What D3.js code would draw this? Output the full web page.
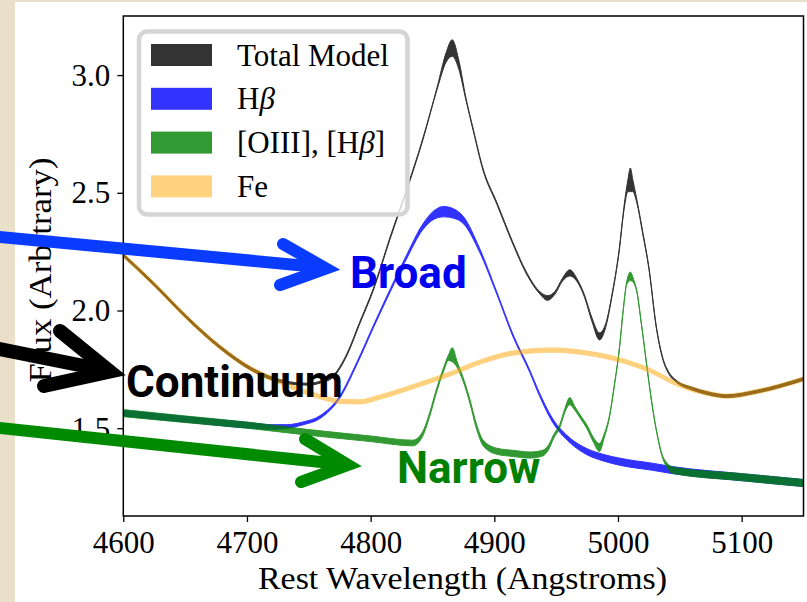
<!DOCTYPE html>
<html><head><meta charset="utf-8">
<script src="https://cdn.jsdelivr.net/npm/d3@7"></script>
<style>
html,body{margin:0;padding:0;background:#eadfc8;overflow:hidden;}
svg{display:block;}
</style></head><body>
<svg id="chart" width="807" height="602"></svg>
<script>
// ---------------- data ----------------
const wavelengthTicks = [4600, 4700, 4800, 4900, 5000, 5100];
const fluxTicks = [1.5, 2.0, 2.5, 3.0];

const totalWave = [4600, 4624, 4651, 4678, 4705, 4727, 4743, 4750, 4760, 4770, 4781, 4791, 4802, 4816, 4829, 4842, 4854, 4861, 4866, 4871, 4877, 4883, 4891, 4902, 4915, 4926, 4937, 4943, 4949, 4955, 4961, 4967, 4973, 4979, 4985, 4990, 4995, 5001, 5005, 5008, 5010, 5012, 5015, 5020, 5025, 5031, 5036, 5041, 5047, 5060, 5072, 5088, 5112, 5150];
const totalFlux = [2.235, 2.116, 1.972, 1.845, 1.747, 1.700, 1.688, 1.687, 1.697, 1.722, 1.815, 1.945, 2.087, 2.312, 2.511, 2.724, 2.949, 3.075, 3.115, 3.050, 2.900, 2.766, 2.597, 2.456, 2.286, 2.159, 2.074, 2.053, 2.075, 2.130, 2.160, 2.128, 2.060, 1.960, 1.890, 1.935, 2.060, 2.257, 2.440, 2.530, 2.555, 2.530, 2.470, 2.330, 2.180, 1.929, 1.800, 1.735, 1.700, 1.668, 1.649, 1.636, 1.655, 1.709];
const totalSpread = [0.006, 0.006, 0.006, 0.006, 0.006, 0.006, 0.004, 0.004, 0.004, 0.004, 0.004, 0.004, 0.004, 0.004, 0.004, 0.004, 0.005, 0.020, 0.035, 0.020, 0.005, 0.004, 0.004, 0.004, 0.004, 0.004, 0.005, 0.010, 0.006, 0.006, 0.013, 0.006, 0.005, 0.008, 0.015, 0.008, 0.005, 0.005, 0.008, 0.025, 0.050, 0.025, 0.008, 0.005, 0.004, 0.004, 0.004, 0.004, 0.004, 0.006, 0.006, 0.006, 0.006, 0.006];

const hbWave = [4600, 4650, 4700, 4720, 4732, 4745, 4759, 4775, 4789, 4802, 4816, 4829, 4842, 4851, 4859, 4867, 4875, 4888, 4902, 4915, 4929, 4935, 4947, 4961, 4975, 4988, 5002, 5028, 5044, 5100, 5150];
const hbFlux = [1.564, 1.538, 1.513, 1.505, 1.507, 1.520, 1.547, 1.632, 1.777, 1.929, 2.087, 2.227, 2.354, 2.405, 2.420, 2.412, 2.384, 2.257, 2.074, 1.895, 1.738, 1.662, 1.534, 1.449, 1.400, 1.375, 1.357, 1.336, 1.322, 1.292, 1.267];
const hbSpread = [0.012, 0.012, 0.012, 0.010, 0.008, 0.006, 0.006, 0.005, 0.005, 0.005, 0.006, 0.008, 0.012, 0.018, 0.022, 0.020, 0.015, 0.008, 0.005, 0.005, 0.005, 0.006, 0.008, 0.010, 0.013, 0.014, 0.015, 0.015, 0.015, 0.015, 0.015];

const narrowWave = [4600, 4650, 4700, 4750, 4800, 4834, 4842, 4848, 4853, 4859, 4863, 4866, 4870, 4875, 4880, 4886, 4891, 4902, 4915, 4929, 4939, 4944, 4948, 4953, 4957, 4961, 4965, 4970, 4975, 4980, 4985, 4989, 4993, 4997, 5001, 5004, 5007, 5010, 5013, 5015, 5019, 5023, 5027, 5031, 5036, 5040, 5044, 5100, 5150];
const narrowFlux = [1.564, 1.538, 1.513, 1.482, 1.455, 1.437, 1.475, 1.563, 1.655, 1.750, 1.800, 1.812, 1.770, 1.704, 1.619, 1.500, 1.437, 1.402, 1.393, 1.386, 1.394, 1.420, 1.465, 1.510, 1.575, 1.615, 1.585, 1.545, 1.505, 1.452, 1.418, 1.470, 1.547, 1.680, 1.832, 1.990, 2.115, 2.145, 2.120, 2.087, 1.940, 1.777, 1.620, 1.492, 1.379, 1.340, 1.322, 1.292, 1.267];
const narrowSpread = [0.015, 0.014, 0.013, 0.012, 0.012, 0.012, 0.010, 0.008, 0.008, 0.008, 0.012, 0.030, 0.012, 0.008, 0.008, 0.010, 0.012, 0.013, 0.013, 0.013, 0.012, 0.010, 0.008, 0.007, 0.008, 0.015, 0.008, 0.007, 0.008, 0.010, 0.017, 0.008, 0.005, 0.004, 0.004, 0.004, 0.006, 0.018, 0.006, 0.004, 0.003, 0.003, 0.003, 0.003, 0.005, 0.010, 0.013, 0.015, 0.015];

const feWave = [4600, 4624, 4651, 4678, 4705, 4727, 4743, 4759, 4775, 4791, 4808, 4834, 4862, 4889, 4915, 4947, 4975, 5002, 5028, 5044, 5058, 5072, 5088, 5112, 5150];
const feFlux = [2.235, 2.116, 1.972, 1.845, 1.747, 1.696, 1.662, 1.634, 1.614, 1.612, 1.633, 1.676, 1.726, 1.782, 1.819, 1.832, 1.819, 1.789, 1.740, 1.697, 1.668, 1.649, 1.636, 1.655, 1.709];
const feSpread = feWave.map(() => 0.009);

const legendLabels = ["Total Model", "Hβ", "[OIII], [Hβ]", "Fe"];

// ---------------- chart ----------------
const svg = d3.select("#chart");
svg.append("rect").attr("x", 15).attr("y", 2).attr("width", 792).attr("height", 600).attr("fill", "#ffffff");

const M = {left: 123.3, right: 803.5, top: 16, bottom: 516};
const x = d3.scaleLinear().domain([4600, 5150]).range([M.left, M.right]);
const y = d3.scaleLinear().domain([1.127, 3.251]).range([M.bottom, M.top]);

svg.append("clipPath").attr("id", "clip").append("rect")
  .attr("x", M.left).attr("y", M.top).attr("width", M.right - M.left).attr("height", M.bottom - M.top);
const plot = svg.append("g").attr("clip-path", "url(#clip)");

function band(wave, flux, spread, color, opacity) {
  const pts = wave.map((w, i) => ({w: w, lo: flux[i] - spread[i], hi: flux[i] + spread[i]}));
  const area = d3.area().x(d => x(d.w)).y0(d => y(d.lo)).y1(d => y(d.hi)).curve(d3.curveMonotoneX);
  plot.append("path").attr("d", area(pts))
    .attr("fill", color).attr("stroke", color).attr("stroke-width", 1)
    .attr("stroke-linejoin", "round").attr("opacity", opacity);
}
band(totalWave, totalFlux, totalSpread, "#000000", 0.8);
band(hbWave, hbFlux, hbSpread, "#0000ff", 0.8);
band(narrowWave, narrowFlux, narrowSpread, "#008000", 0.8);
band(feWave, feFlux, feSpread, "#ffa500", 0.5);

const serif = "'Liberation Serif', 'Times New Roman', serif";

// axes
const xAxis = svg.append("g").attr("transform", `translate(0,${M.bottom})`)
  .call(d3.axisBottom(x).tickValues(wavelengthTicks).tickFormat(d3.format("d")).tickSize(6).tickPadding(9).tickSizeOuter(0));
const yAxis = svg.append("g").attr("transform", `translate(${M.left},0)`)
  .call(d3.axisLeft(y).tickValues(fluxTicks).tickFormat(d3.format(".1f")).tickSize(6).tickPadding(7).tickSizeOuter(0));
[xAxis, yAxis].forEach(g => {
  g.select(".domain").remove();
  g.selectAll(".tick line").attr("stroke", "#000").attr("stroke-width", 1.3);
  g.selectAll(".tick text").attr("fill", "#000").style("font-family", serif).style("font-size", "31px");
});

// frame
svg.append("rect").attr("x", M.left).attr("y", M.top).attr("width", M.right - M.left).attr("height", M.bottom - M.top)
  .attr("fill", "none").attr("stroke", "#000").attr("stroke-width", 1.5);

// axis titles
svg.append("text").attr("x", 462.5).attr("y", 589).attr("text-anchor", "middle")
  .attr("textLength", 409).attr("lengthAdjust", "spacingAndGlyphs")
  .style("font-family", serif).style("font-size", "31px").text("Rest Wavelength (Angstroms)");
svg.append("text").attr("transform", "translate(51,270) rotate(-90)").attr("text-anchor", "middle")
  .attr("textLength", 225).attr("lengthAdjust", "spacingAndGlyphs")
  .style("font-family", serif).style("font-size", "31px").text("Flux (Arbitrary)");

// legend
const leg = svg.append("g");
leg.append("rect").attr("x", 139).attr("y", 31.5).attr("width", 268.5).attr("height", 183).attr("rx", 8)
  .attr("fill", "#fff").attr("fill-opacity", 0.8).attr("stroke", "#d5d5d5").attr("stroke-width", 4.5);
const legColors = [["#000000", 0.8], ["#0000ff", 0.8], ["#008000", 0.8], ["#ffa500", 0.5]];
legendLabels.forEach((lab, i) => {
  const cy = 55 + i * 43.8;
  leg.append("rect").attr("x", 151).attr("y", cy - 11).attr("width", 61).attr("height", 22)
    .attr("fill", legColors[i][0]).attr("opacity", legColors[i][1]);
  const t = leg.append("text").attr("x", 237).attr("y", cy + 10.5)
    .style("font-family", serif).style("font-size", "31px").attr("fill", "#000");
  const parts = lab.split("β");
  parts.forEach((p, j) => {
    if (p) t.append("tspan").text(p);
    if (j < parts.length - 1) t.append("tspan").style("font-style", "italic").text("β");
  });
});

// annotations
const ann = svg.append("g").attr("fill", "none").attr("stroke-linecap", "round");
function arrow(shaft, head, color, width) {
  ann.append("line").attr("x1", shaft[0][0]).attr("y1", shaft[0][1]).attr("x2", shaft[1][0]).attr("y2", shaft[1][1])
    .attr("stroke", color).attr("stroke-width", width);
  ann.append("polyline").attr("points", head.map(p => p.join(",")).join(" "))
    .attr("stroke", color).attr("stroke-width", width).attr("stroke-linejoin", "miter").attr("stroke-miterlimit", 10);
}
arrow([[-10, 236], [318, 267]], [[283, 244], [326, 268.5], [280, 285]], "#0a3cff", 12);
arrow([[-10, 347], [104, 370]], [[60, 331], [110, 371.5], [44, 386]], "#000000", 14);
arrow([[-10, 427], [340, 464]], [[305, 439], [348, 465], [301, 482]], "#008a00", 12);

const sans = "Roboto, 'Liberation Sans', Arial, sans-serif";
svg.append("text").attr("x", 350).attr("y", 288).style("font-family", sans).style("font-weight", "bold")
  .style("font-size", "44px").attr("fill", "#0000ee").text("Broad");
svg.append("text").attr("x", 126).attr("y", 397).style("font-family", sans).style("font-weight", "bold")
  .style("font-size", "44px").attr("fill", "#000").text("Continuum");
svg.append("text").attr("x", 397).attr("y", 483).style("font-family", sans).style("font-weight", "bold")
  .style("font-size", "44px").attr("fill", "#008000").text("Narrow");
</script>
</body></html>
